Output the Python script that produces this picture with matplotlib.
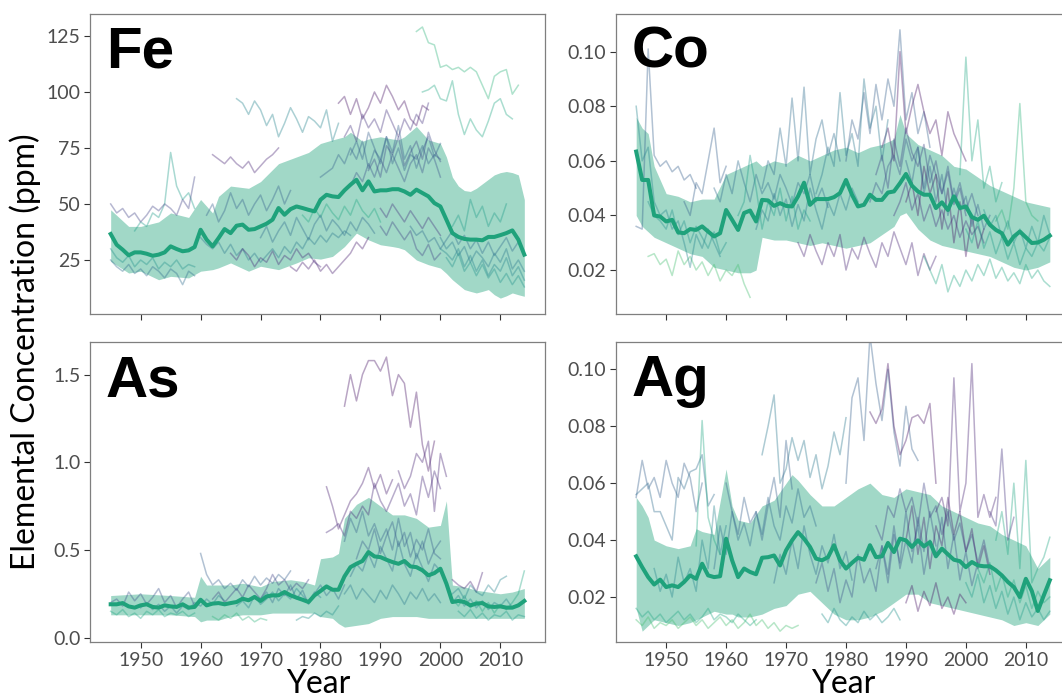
import matplotlib
matplotlib.use("Agg")
import matplotlib.pyplot as plt
from matplotlib import cm

plt.rcParams['font.family'] = ['Lato', 'DejaVu Sans']

# ---------------- data ----------------
years = list(range(1945, 2015))
year_ticks = [1950, 1960, 1970, 1980, 1990, 2000, 2010]

# mean line per element, one value per year 1945..2014
fe_mean = [36.6, 31.8, 29.6, 27.1, 28.4, 28.4, 27.8, 26.9, 27.4, 28.4,
           31.1, 29.9, 28.9, 29.3, 30.8, 38.5, 34.1, 31.1, 34.8, 38.8,
           37.0, 40.3, 40.8, 38.5, 38.8, 40.0, 41.2, 43.0, 48.2, 45.2,
           47.7, 48.9, 48.2, 47.4, 46.7, 51.9, 54.1, 53.4, 53.1, 56.1,
           58.6, 60.8, 56.1, 60.1, 55.6, 56.1, 56.1, 56.6, 56.6, 55.6,
           54.1, 56.4, 54.9, 53.4, 50.4, 48.9, 43.0, 37.0, 35.3, 34.4,
           34.1, 34.1, 33.8, 35.3, 35.3, 36.1, 37.0, 38.2, 34.1, 27.4]
co_mean = [0.0634, 0.053, 0.053, 0.040, 0.0396, 0.0378, 0.0384, 0.0338, 0.0335, 0.035,
           0.0347, 0.036, 0.0341, 0.0323, 0.0335, 0.042, 0.0384, 0.0347, 0.0409, 0.0418,
           0.0378, 0.0457, 0.0455, 0.0435, 0.0445, 0.0435, 0.0433, 0.047, 0.052, 0.0439,
           0.046, 0.046, 0.046, 0.0467, 0.0482, 0.053, 0.0476, 0.0433, 0.0439, 0.0476,
           0.0457, 0.0457, 0.0484, 0.0488, 0.0518, 0.0552, 0.0509, 0.0488, 0.0476, 0.0476,
           0.0427, 0.0448, 0.042, 0.047, 0.0427, 0.0433, 0.0394, 0.0384, 0.0399, 0.0366,
           0.0347, 0.0335, 0.0293, 0.0323, 0.0341, 0.032, 0.0299, 0.0301, 0.0311, 0.0326]
as_mean = [0.19, 0.19, 0.197, 0.178, 0.171, 0.184, 0.19, 0.175, 0.171, 0.184,
           0.178, 0.175, 0.19, 0.171, 0.175, 0.216, 0.184, 0.194, 0.197, 0.19,
           0.197, 0.203, 0.222, 0.213, 0.232, 0.209, 0.235, 0.241, 0.241, 0.26,
           0.241, 0.228, 0.216, 0.203, 0.241, 0.266, 0.292, 0.273, 0.273, 0.349,
           0.402, 0.421, 0.437, 0.488, 0.463, 0.459, 0.444, 0.431, 0.421, 0.437,
           0.406, 0.402, 0.384, 0.355, 0.368, 0.393, 0.308, 0.203, 0.209, 0.203,
           0.184, 0.194, 0.197, 0.178, 0.175, 0.178, 0.171, 0.171, 0.184, 0.209]
ag_mean = [0.0343, 0.0305, 0.027, 0.0244, 0.0261, 0.0235, 0.0241, 0.0235, 0.0253, 0.0276,
           0.0264, 0.0317, 0.0276, 0.027, 0.0273, 0.0405, 0.0329, 0.027, 0.030, 0.0288,
           0.028, 0.0338, 0.034, 0.0346, 0.0311, 0.0364, 0.0399, 0.0428, 0.0405, 0.0376,
           0.0335, 0.0329, 0.034, 0.0382, 0.0329, 0.030, 0.032, 0.0338, 0.0331, 0.0382,
           0.034, 0.0343, 0.039, 0.0358, 0.0405, 0.0399, 0.0376, 0.0399, 0.0378, 0.0393,
           0.0343, 0.037, 0.035, 0.0331, 0.0326, 0.0305, 0.0323, 0.0311, 0.0308, 0.0308,
           0.0294, 0.0276, 0.0253, 0.0235, 0.020, 0.0264, 0.0221, 0.0151, 0.0206, 0.0259]

# shaded band (lower / upper edge)
fe_band_years = [1945, 1948, 1950, 1953, 1955, 1958, 1960, 1962, 1963, 1965, 1968, 1970,
                 1973, 1976, 1978, 1980, 1982, 1984, 1985, 1986, 1987, 1988, 1990, 1992,
                 1993, 1994, 1996, 1998, 2000, 2001, 2002, 2003, 2004, 2005, 2006, 2007,
                 2008, 2009, 2010, 2011, 2012, 2013, 2014]
fe_band_lo = [24.4, 19.2, 20.0, 16.2, 17.7, 17.0, 20.0, 20.7, 21.5, 23.7, 20.0, 22.2,
              20.7, 23.7, 26.0, 25.4, 26.6, 31.0, 34.0, 37.0, 35.5, 34.0, 31.8, 31.0,
              30.5, 29.6, 25.0, 22.9, 21.4, 19.0, 16.2, 14.0, 11.8, 11.0, 10.3, 11.0,
              11.8, 9.5, 8.0, 9.0, 10.3, 9.5, 8.8]
fe_band_hi = [47.4, 40.0, 40.0, 42.0, 46.0, 44.0, 52.0, 46.0, 53.4, 58.0, 57.0, 60.0,
              68.0, 71.0, 73.0, 77.0, 78.6, 80.0, 82.0, 80.0, 78.0, 79.0, 80.0, 79.0,
              78.6, 80.0, 84.6, 78.6, 77.0, 71.0, 62.0, 58.0, 56.0, 55.6, 57.0, 59.0,
              61.0, 63.0, 64.0, 64.5, 64.0, 63.0, 52.0]

co_band_years = [1945, 1946, 1947, 1948, 1950, 1952, 1954, 1956, 1958, 1960, 1962, 1964,
                 1965, 1966, 1968, 1970, 1972, 1974, 1976, 1978, 1980, 1982, 1984, 1986,
                 1988, 1989, 1990, 1992, 1994, 1996, 1998, 2000, 2002, 2004, 2006, 2008,
                 2010, 2012, 2014]
co_band_lo = [0.040, 0.036, 0.034, 0.032, 0.030, 0.028, 0.026, 0.025, 0.021, 0.020,
              0.019, 0.019, 0.020, 0.032, 0.031, 0.031, 0.030, 0.029, 0.030, 0.029,
              0.028, 0.029, 0.030, 0.033, 0.036, 0.040, 0.041, 0.035, 0.031, 0.029,
              0.028, 0.027, 0.026, 0.025, 0.023, 0.021, 0.020, 0.021, 0.023]
co_band_hi = [0.076, 0.072, 0.070, 0.058, 0.048, 0.047, 0.045, 0.046, 0.046, 0.055,
              0.057, 0.059, 0.060, 0.058, 0.060, 0.059, 0.062, 0.060, 0.062, 0.064,
              0.065, 0.063, 0.065, 0.066, 0.068, 0.077, 0.070, 0.066, 0.064, 0.062,
              0.058, 0.057, 0.054, 0.051, 0.049, 0.047, 0.045, 0.044, 0.043]

as_band_years = [1945, 1950, 1955, 1959, 1960, 1961, 1963, 1965, 1967, 1970, 1972, 1975,
                 1977, 1979, 1980, 1982, 1983, 1984, 1986, 1988, 1990, 1992, 1994, 1996,
                 1998, 2000, 2001, 2002, 2004, 2006, 2008, 2010, 2012, 2014]
as_band_lo = [0.13, 0.13, 0.13, 0.12, 0.09, 0.10, 0.10, 0.12, 0.13, 0.13, 0.14, 0.14,
              0.14, 0.14, 0.12, 0.11, 0.08, 0.06, 0.07, 0.08, 0.11, 0.12, 0.12, 0.12,
              0.11, 0.11, 0.11, 0.11, 0.11, 0.11, 0.11, 0.11, 0.11, 0.11]
as_band_hi = [0.24, 0.25, 0.24, 0.23, 0.35, 0.30, 0.30, 0.30, 0.31, 0.29, 0.32, 0.33,
              0.32, 0.30, 0.45, 0.46, 0.48, 0.68, 0.76, 0.80, 0.75, 0.70, 0.70, 0.68,
              0.63, 0.64, 0.78, 0.30, 0.29, 0.27, 0.26, 0.25, 0.26, 0.28]

ag_band_years = [1945, 1946, 1947, 1948, 1950, 1952, 1954, 1955, 1956, 1958, 1960, 1961,
                 1962, 1964, 1966, 1968, 1970, 1971, 1972, 1974, 1976, 1978, 1980, 1982,
                 1984, 1986, 1988, 1990, 1992, 1994, 1996, 1998, 2000, 2002, 2004, 2006,
                 2008, 2010, 2012, 2014]
ag_band_lo = [0.016, 0.008, 0.010, 0.012, 0.011, 0.010, 0.011, 0.012, 0.013, 0.015,
              0.014, 0.014, 0.013, 0.013, 0.014, 0.016, 0.017, 0.019, 0.021, 0.022,
              0.018, 0.014, 0.012, 0.012, 0.013, 0.015, 0.018, 0.021, 0.021, 0.018,
              0.017, 0.016, 0.015, 0.014, 0.013, 0.012, 0.010, 0.011, 0.010, 0.014]
ag_band_hi = [0.055, 0.052, 0.048, 0.040, 0.038, 0.037, 0.038, 0.044, 0.043, 0.042,
              0.065, 0.052, 0.047, 0.046, 0.052, 0.054, 0.060, 0.063, 0.061, 0.056,
              0.052, 0.052, 0.055, 0.058, 0.060, 0.056, 0.055, 0.058, 0.057, 0.056,
              0.052, 0.050, 0.048, 0.046, 0.045, 0.042, 0.040, 0.038, 0.030, 0.034]

# individual series: (first year, yearly values)
fe_lines = [
    (1996, [127, 129, 122, 121, 111, 112, 110, 111, 109, 111, 109, 103, 97, 107, 109, 110, 99, 103]),
    (1997, [100, 101, 103, 97, 96, 105, 90, 81, 88, 83, 80, 87, 95, 97, 90, 88]),
    (1983, [95, 98, 90, 97, 88, 93, 100, 95, 103, 98, 92, 96, 88, 85, 94, 92]),
    (1984, [80, 85, 78, 90, 84, 88, 82, 92, 86, 80, 88, 83, 90, 86, 95]),
    (1966, [97, 95, 90, 96, 92, 85, 90, 80, 86, 93, 88, 82, 89, 87, 84, 92, 78, 86]),
    (1962, [72, 70, 68, 71, 68, 66, 69, 64, 67, 70, 72, 75]),
    (1980, [62, 64, 66, 72, 68, 75, 70, 78, 66, 74, 70, 80, 68, 75, 65, 72, 70, 76, 68, 72, 70]),
    (1985, [58, 64, 60, 68, 62, 70, 64, 72, 66, 60, 68, 72, 64, 75, 70, 62]),
    (1949, [38, 42, 40, 46, 44, 50, 73, 58, 52, 55, 48]),
    (1945, [50, 46, 48, 44, 46, 42, 45, 49, 47, 50, 48, 45, 52, 48, 62]),
    (1945, [25, 22, 20, 23, 19, 21, 18, 22, 20, 17, 21, 19, 14, 20, 18]),
    (1945, [30, 26, 24, 27, 22, 25, 23, 26, 21, 24, 22, 25, 21, 23, 22]),
    (1960, [35, 32, 30, 33, 28, 32, 27, 30, 25, 28, 24, 27, 30, 26, 31, 28, 33, 30, 35, 32, 36, 33, 37, 35, 38, 36]),
    (1975, [22, 20, 24, 21, 25, 20, 23, 19, 22, 25, 28, 33, 30, 35]),
    (1961, [45, 50, 42, 47, 55, 48, 52, 45, 50, 54, 47, 52, 58, 50, 56]),
    (2000, [30, 28, 25, 30, 22, 27, 20, 25, 18, 23, 20, 26, 18, 22, 16]),
    (1995, [40, 36, 38, 33, 35, 30, 34, 38, 32, 36, 30, 34, 28, 33, 27, 31, 35, 29, 33]),
    (2002, [40, 45, 38, 52, 44, 49, 40, 46, 42, 50]),
    (1990, [40, 36, 42, 38, 34, 38, 30, 27, 32, 25, 28]),
    (1965, [28, 25, 30, 27, 22, 26, 24, 29, 23, 27, 25, 30, 26, 28, 24, 22]),
    (1977, [45, 42, 48, 44, 50, 46, 43, 49, 45, 52, 47, 44, 48, 42]),
    (1985, [72, 78, 70, 82, 75, 68, 80, 73, 85, 70, 76, 66, 74, 80, 71, 77]),
    (1988, [65, 70, 62, 76, 72, 80, 67, 73, 78, 70, 82, 74, 69]),
    (2000, [35, 30, 33, 27, 31, 24, 29, 26, 22, 28, 24, 30, 21, 25, 20]),
    (2001, [26, 22, 28, 20, 24, 18, 23, 17, 21, 15, 19, 14, 18, 13]),
    (1970, [35, 40, 33, 38, 42, 36, 44, 39, 34, 41, 45, 38, 43, 40, 36, 42, 38, 44, 41, 37]),
    (1990, [48, 44, 50, 46, 42, 47, 43, 39, 44, 40, 36]),
]
fe_shades = [0.65, 0.6, 0.05, 0.15, 0.45, 0.1, 0.3, 0.25, 0.55, 0.2, 0.35,
             0.5, 0.4, 0.08, 0.3, 0.45, 0.35, 0.55, 0.2, 0.12, 0.6,
             0.3, 0.22, 0.4, 0.5, 0.35, 0.15]

co_lines = [
    (1945, [0.036, 0.035, 0.101, 0.062, 0.058, 0.060, 0.056, 0.058, 0.053, 0.055, 0.050]),
    (1966, [0.050, 0.060, 0.055, 0.072, 0.058, 0.083, 0.060, 0.087, 0.055, 0.068, 0.075, 0.062, 0.070, 0.060]),
    (1980, [0.060, 0.075, 0.068, 0.085, 0.070, 0.088, 0.075, 0.090, 0.080, 0.108, 0.075, 0.085, 0.070, 0.078, 0.065]),
    (1986, [0.065, 0.072, 0.060, 0.100, 0.070, 0.080, 0.088, 0.078, 0.070, 0.075, 0.062, 0.078, 0.070, 0.065, 0.060]),
    (1999, [0.055, 0.098, 0.060, 0.075, 0.050, 0.058, 0.045, 0.052]),
    (2005, [0.038, 0.042, 0.035, 0.050, 0.081, 0.045, 0.040, 0.038]),
    (1972, [0.030, 0.025, 0.033, 0.027, 0.022, 0.030, 0.025, 0.033, 0.020, 0.028, 0.024, 0.032,
            0.026, 0.021, 0.030, 0.025, 0.034, 0.028, 0.022, 0.030, 0.018, 0.026, 0.020, 0.025]),
    (1993, [0.025, 0.020, 0.015, 0.022, 0.012, 0.018, 0.014, 0.020, 0.016, 0.022, 0.018,
            0.024, 0.017, 0.021, 0.016, 0.019, 0.015, 0.022, 0.017, 0.020, 0.016, 0.014]),
    (1947, [0.025, 0.026, 0.022, 0.024, 0.018, 0.027, 0.022, 0.025, 0.020, 0.023, 0.018,
            0.022, 0.016, 0.020, 0.018, 0.022, 0.015, 0.010]),
    (1958, [0.050, 0.045, 0.055, 0.048, 0.060, 0.052, 0.045, 0.055, 0.048, 0.052, 0.046,
            0.055, 0.050, 0.044, 0.052, 0.048, 0.055, 0.045, 0.050, 0.043]),
    (1984, [0.045, 0.052, 0.048, 0.058, 0.062, 0.055, 0.068, 0.060, 0.065, 0.050, 0.062,
            0.055, 0.048, 0.058, 0.045, 0.052, 0.042, 0.048, 0.040]),
    (1988, [0.040, 0.045, 0.052, 0.042, 0.048, 0.038, 0.044, 0.036, 0.042, 0.035, 0.040,
            0.032, 0.038, 0.033, 0.036, 0.030]),
    (2003, [0.042, 0.036, 0.040, 0.032, 0.038, 0.030, 0.035, 0.028, 0.036, 0.030, 0.040, 0.033]),
    (1945, [0.080, 0.060, 0.065, 0.045, 0.040, 0.042, 0.035, 0.038, 0.030, 0.021, 0.033,
            0.028, 0.035, 0.030, 0.025]),
    (1953, [0.045, 0.040, 0.052, 0.048, 0.060, 0.072, 0.052, 0.058]),
    (1962, [0.040, 0.045, 0.062, 0.050, 0.035, 0.045, 0.040, 0.050, 0.038, 0.047, 0.035, 0.042, 0.038]),
    (1975, [0.048, 0.055, 0.065, 0.058, 0.085, 0.062, 0.070, 0.058, 0.090, 0.072, 0.080, 0.060, 0.075]),
    (1990, [0.045, 0.052, 0.040, 0.058, 0.048, 0.055, 0.035, 0.050, 0.030, 0.045, 0.025,
            0.040, 0.028, 0.035]),
    (1985, [0.055, 0.062, 0.050, 0.068, 0.058, 0.072, 0.063, 0.058, 0.066, 0.052, 0.060,
            0.048, 0.056, 0.044, 0.050, 0.040]),
    (1990, [0.060, 0.052, 0.065, 0.048, 0.058, 0.045, 0.055, 0.040, 0.050, 0.042, 0.047,
            0.036, 0.044, 0.035, 0.040]),
    (1965, [0.035, 0.042, 0.038, 0.048, 0.040, 0.046, 0.036, 0.044, 0.038, 0.050, 0.042,
            0.035, 0.045, 0.040, 0.048, 0.042, 0.050, 0.045]),
    (2000, [0.035, 0.030, 0.038, 0.028, 0.034, 0.026, 0.032, 0.024, 0.030, 0.022, 0.028,
            0.025, 0.030, 0.027, 0.032]),
    (1947, [0.045, 0.040, 0.038, 0.035, 0.042, 0.033, 0.038, 0.030, 0.036, 0.032, 0.028,
            0.034, 0.026, 0.030]),
]
co_shades = [0.3, 0.35, 0.3, 0.05, 0.6, 0.65, 0.1, 0.6, 0.7, 0.35, 0.25, 0.15,
             0.5, 0.45, 0.3, 0.55, 0.4, 0.05, 0.2, 0.3, 0.4, 0.55, 0.5]

as_lines = [
    (1984, [1.32, 1.50, 1.35, 1.50, 1.58, 1.58, 1.52, 1.60, 1.38, 1.50, 1.45, 1.20, 1.40, 1.10, 0.95, 1.12]),
    (1993, [0.95, 0.85, 0.92, 1.05, 1.00, 1.12, 0.72, 1.05, 0.92]),
    (1981, [0.86, 0.75, 0.62, 0.70, 0.78, 0.82, 0.88, 0.97, 0.85, 0.93, 0.82, 0.90]),
    (1981, [0.60, 0.62, 0.65, 0.58, 0.72, 0.68, 0.75, 0.70, 0.88, 0.78, 0.72, 0.80, 0.88,
            0.75, 0.82, 0.70, 0.92, 0.80, 0.95, 0.85]),
    (1984, [0.55, 0.68, 0.60, 0.72, 0.58, 0.65, 0.55, 0.62, 0.50, 0.68, 0.52, 0.60, 0.45,
            0.55, 0.42, 0.50, 0.55]),
    (1985, [0.35, 0.42, 0.38, 0.48, 0.40, 0.52, 0.45, 0.38, 0.55, 0.42, 0.35, 0.48, 0.40,
            0.32, 0.42, 0.38]),
    (1960, [0.48, 0.36, 0.30, 0.33, 0.28, 0.31, 0.27, 0.33, 0.29, 0.35, 0.30, 0.34, 0.31,
            0.36, 0.33, 0.38]),
    (1962, [0.22, 0.26, 0.20, 0.24, 0.28, 0.23, 0.30, 0.26, 0.22, 0.28, 0.36, 0.30, 0.33,
            0.27, 0.31, 0.28, 0.33]),
    (1945, [0.20, 0.22, 0.18, 0.26, 0.21, 0.25, 0.19, 0.23, 0.28, 0.20, 0.24, 0.17, 0.22, 0.26, 0.18]),
    (1945, [0.15, 0.13, 0.16, 0.12, 0.14, 0.11, 0.15, 0.13, 0.16, 0.12, 0.14, 0.13, 0.15, 0.12, 0.14]),
    (1962, [0.12, 0.10, 0.13, 0.11, 0.14, 0.10, 0.12, 0.09, 0.11, 0.10]),
    (1976, [0.10, 0.12, 0.11, 0.14, 0.12, 0.15, 0.13, 0.18]),
    (2002, [0.33, 0.30, 0.28, 0.32, 0.26, 0.37]),
    (2002, [0.22, 0.18, 0.24, 0.17, 0.21, 0.15, 0.20, 0.14, 0.19, 0.16, 0.20, 0.25, 0.38]),
    (2003, [0.15, 0.12, 0.16, 0.11, 0.14, 0.10, 0.13, 0.12, 0.15, 0.10, 0.13, 0.12]),
    (1984, [0.25, 0.30, 0.22, 0.28, 0.24, 0.20, 0.27, 0.22, 0.30, 0.25, 0.19, 0.26, 0.22,
            0.28, 0.21, 0.25, 0.20]),
    (2002, [0.25, 0.28, 0.22, 0.30, 0.26, 0.24, 0.30, 0.26, 0.33, 0.35]),
    (1966, [0.18, 0.21, 0.17, 0.24, 0.19, 0.22, 0.26, 0.21, 0.25, 0.22, 0.28, 0.24, 0.20, 0.26, 0.23]),
    (1986, [0.45, 0.55, 0.50, 0.62, 0.48, 0.58, 0.66, 0.52, 0.60, 0.46, 0.56, 0.50, 0.62, 0.48, 0.45]),
    (1970, [0.22, 0.26, 0.20, 0.28, 0.24, 0.30, 0.22, 0.27, 0.19, 0.25, 0.30, 0.24, 0.28, 0.22, 0.30]),
    (2002, [0.20, 0.24, 0.18, 0.22, 0.17, 0.21, 0.16, 0.20, 0.18, 0.22, 0.17, 0.19, 0.21]),
    (1950, [0.17, 0.20, 0.16, 0.19, 0.15, 0.18, 0.14, 0.18, 0.16, 0.20, 0.18, 0.22, 0.19, 0.24, 0.21]),
]
as_shades = [0.05, 0.1, 0.08, 0.12, 0.3, 0.35, 0.3, 0.2, 0.25, 0.6, 0.65, 0.5,
             0.1, 0.6, 0.55, 0.4, 0.45, 0.45, 0.28, 0.35, 0.45, 0.4]

ag_lines = [
    (1945, [0.055, 0.068, 0.058, 0.062, 0.055, 0.068, 0.060, 0.055, 0.067, 0.062, 0.050, 0.060]),
    (1945, [0.056, 0.058, 0.060, 0.050, 0.050, 0.045, 0.040, 0.062, 0.058, 0.064, 0.065,
            0.070, 0.052, 0.056]),
    (1955, [0.038, 0.082, 0.048, 0.040, 0.035]),
    (1966, [0.070, 0.080, 0.091, 0.060, 0.065, 0.076, 0.068, 0.075, 0.062, 0.070, 0.058,
            0.066, 0.078, 0.070, 0.083]),
    (1980, [0.060, 0.090, 0.097, 0.075, 0.112, 0.095, 0.082, 0.100, 0.078, 0.066, 0.087, 0.072, 0.068]),
    (1984, [0.085, 0.081, 0.086, 0.102, 0.080, 0.070, 0.075, 0.083, 0.084, 0.081, 0.088, 0.060]),
    (1995, [0.050, 0.055, 0.045, 0.097, 0.050, 0.060, 0.102, 0.048, 0.056, 0.048, 0.055]),
    (1990, [0.018, 0.024, 0.015, 0.022, 0.017, 0.025, 0.016, 0.020, 0.014, 0.021, 0.018]),
    (1945, [0.012, 0.010, 0.013, 0.009, 0.011, 0.010, 0.012, 0.009, 0.011, 0.013, 0.010,
            0.012, 0.009, 0.011, 0.013, 0.010, 0.012, 0.009, 0.011, 0.014, 0.010, 0.012,
            0.009, 0.011, 0.008, 0.010, 0.009, 0.010]),
    (1945, [0.016, 0.013, 0.015, 0.012, 0.014, 0.011, 0.013, 0.015, 0.012, 0.014, 0.011,
            0.013, 0.016, 0.012, 0.014, 0.013, 0.011, 0.014, 0.012, 0.010, 0.012]),
    (1958, [0.030, 0.045, 0.035, 0.050, 0.040, 0.046, 0.038, 0.050, 0.042, 0.055, 0.045,
            0.040, 0.052, 0.046, 0.058, 0.048, 0.052, 0.045]),
    (1975, [0.025, 0.032, 0.022, 0.030, 0.018, 0.026, 0.020, 0.035, 0.025, 0.030, 0.022,
            0.038, 0.028, 0.045, 0.030, 0.040, 0.032, 0.048, 0.036, 0.050, 0.038]),
    (1985, [0.045, 0.040, 0.052, 0.048, 0.058, 0.050, 0.055, 0.045, 0.060, 0.048, 0.052,
            0.042, 0.050, 0.040, 0.046, 0.036, 0.042, 0.032, 0.040, 0.030]),
    (2000, [0.025, 0.020, 0.028, 0.018, 0.024, 0.016, 0.022, 0.014, 0.020, 0.012, 0.018,
            0.013, 0.016, 0.012, 0.015]),
    (2005, [0.040, 0.050, 0.035, 0.060, 0.030, 0.068, 0.025, 0.030, 0.034, 0.041]),
    (2004, [0.050, 0.045, 0.072, 0.040, 0.048]),
    (1960, [0.060, 0.050, 0.042, 0.055, 0.046, 0.050, 0.040, 0.052, 0.062, 0.048, 0.075, 0.058]),
    (1948, [0.030, 0.022, 0.028, 0.020, 0.034, 0.025, 0.030, 0.022, 0.040, 0.030, 0.052, 0.035, 0.045]),
    (1985, [0.030, 0.038, 0.025, 0.042, 0.032, 0.050, 0.036, 0.045, 0.028, 0.040, 0.034,
            0.048, 0.030, 0.042, 0.026, 0.036, 0.024, 0.032]),
    (1990, [0.040, 0.052, 0.035, 0.048, 0.030, 0.045, 0.038, 0.055, 0.042, 0.050, 0.036,
            0.044, 0.030, 0.038, 0.028]),
    (1968, [0.025, 0.035, 0.028, 0.040, 0.030, 0.045, 0.035, 0.028, 0.038, 0.032, 0.042,
            0.030, 0.036, 0.026]),
    (2002, [0.030, 0.025, 0.032, 0.022, 0.028, 0.020, 0.026, 0.018, 0.024, 0.016, 0.022,
            0.018, 0.020]),
    (1976, [0.014, 0.011, 0.016, 0.012, 0.010, 0.013, 0.011, 0.015, 0.012, 0.014, 0.011,
            0.013, 0.016, 0.012]),
]
ag_shades = [0.3, 0.35, 0.6, 0.4, 0.3, 0.05, 0.1, 0.05, 0.7, 0.6, 0.35, 0.25,
             0.2, 0.55, 0.6, 0.15, 0.3, 0.45, 0.25, 0.08, 0.35, 0.6, 0.5]

# panel settings
fe_ticks, fe_ticklabels, fe_ylim = [25, 50, 75, 100, 125], ['25', '50', '75', '100', '125'], (0.9, 134.8)
co_ticks, co_ticklabels, co_ylim = [0.02, 0.04, 0.06, 0.08, 0.10], ['0.02', '0.04', '0.06', '0.08', '0.10'], (0.0039, 0.1138)
as_ticks, as_ticklabels, as_ylim = [0.0, 0.5, 1.0, 1.5], ['0.0', '0.5', '1.0', '1.5'], (-0.025, 1.686)
ag_ticks, ag_ticklabels, ag_ylim = [0.02, 0.04, 0.06, 0.08, 0.10], ['0.02', '0.04', '0.06', '0.08', '0.10'], (0.0042, 0.1096)

# ---------------- plot ----------------
W, H = 1062, 700
fig = plt.figure(figsize=(W / 100, H / 100), dpi=100)

green = '#1FA27B'
grey_txt = '#4D4D4D'


def panel(rect, name, mean, band_x, lo, hi, lines, shades, ticks, ticklabels, ylim, bottom):
    ax = fig.add_axes(rect)
    for (start, vals), s in zip(lines, shades):
        xs = list(range(start, start + len(vals)))
        ax.plot(xs, vals, color=cm.viridis(s), lw=1.1, alpha=0.38, zorder=2)
    ax.fill_between(band_x, lo, hi, color=green, alpha=0.42, lw=0, zorder=1)
    ax.plot(years, mean, color=green, lw=2.9, zorder=4, solid_joinstyle='round')
    ax.set_xlim(1941.55, 2017.45)
    ax.set_ylim(*ylim)
    ax.set_xticks(year_ticks)
    ax.set_yticks(ticks)
    ax.set_yticklabels(ticklabels)
    if bottom:
        ax.set_xticklabels([str(y) for y in year_ticks])
    else:
        ax.set_xticklabels([])
    ax.tick_params(axis='both', length=4, width=0.8, color='#333333', labelsize=14,
                   labelcolor=grey_txt, pad=3)
    for sp in ax.spines.values():
        sp.set_color('#7F7F7F')
        sp.set_linewidth(0.9)
    ax.text(0.035, 0.82, name, transform=ax.transAxes, fontsize=42,
            fontweight='bold', family='Liberation Sans', va='baseline', ha='left', zorder=6)
    return ax


pw, ph = 455 / W, 300 / H
panel([90 / W, 1 - 314 / H, pw, ph], 'Fe', fe_mean, fe_band_years, fe_band_lo, fe_band_hi,
      fe_lines, fe_shades, fe_ticks, fe_ticklabels, fe_ylim, False)
panel([615.5 / W, 1 - 314 / H, pw, ph], 'Co', co_mean, co_band_years, co_band_lo, co_band_hi,
      co_lines, co_shades, co_ticks, co_ticklabels, co_ylim, False)
panel([90 / W, 1 - 642 / H, pw, ph], 'As', as_mean, as_band_years, as_band_lo, as_band_hi,
      as_lines, as_shades, as_ticks, as_ticklabels, as_ylim, True)
panel([615.5 / W, 1 - 642 / H, pw, ph], 'Ag', ag_mean, ag_band_years, ag_band_lo, ag_band_hi,
      ag_lines, ag_shades, ag_ticks, ag_ticklabels, ag_ylim, True)

fig.text(318 / W, 7 / H, 'Year', fontsize=23, ha='center', va='baseline', color='black')
fig.text(843 / W, 7 / H, 'Year', fontsize=23, ha='center', va='baseline', color='black')
fig.text(25 / W, 1 - 352 / H, 'Elemental Concentration (ppm)', rotation=90,
         fontsize=23, ha='center', va='center', color='black')

fig.savefig('out.png', dpi=100)
